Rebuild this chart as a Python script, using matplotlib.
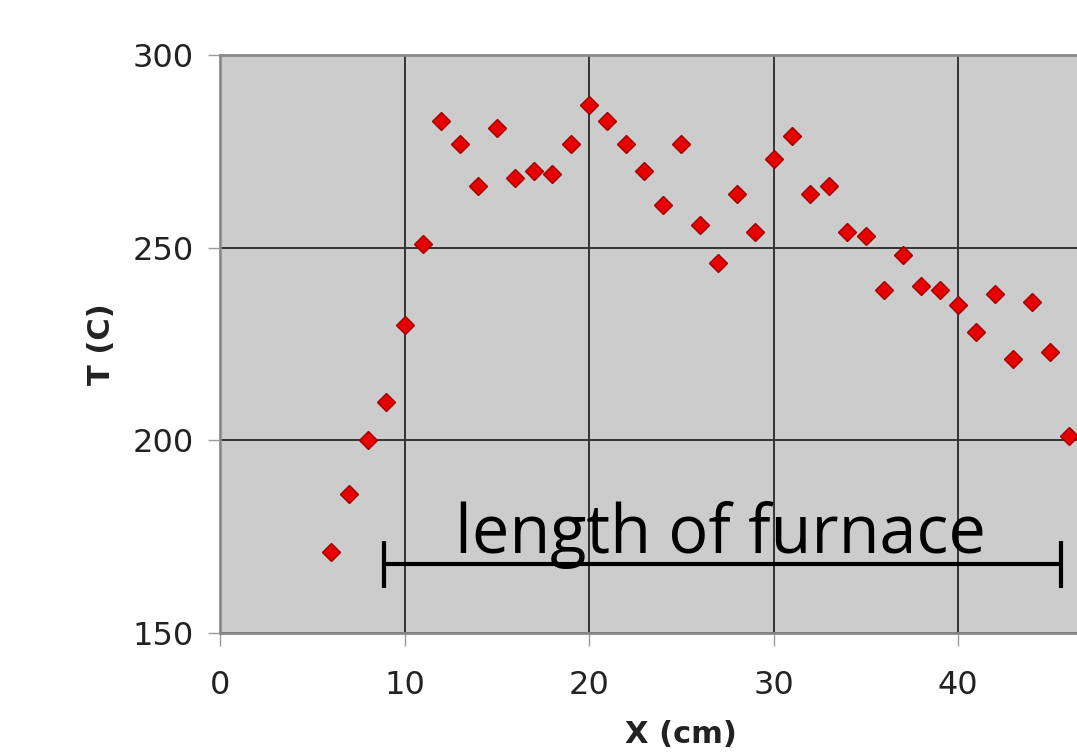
import numpy as np
import matplotlib
matplotlib.use("Agg")
import matplotlib.pyplot as plt

# --- datos ---
x_cm = [6, 7, 8, 9, 10, 11, 12, 13, 14, 15, 16, 17, 18, 19, 20, 21, 22, 23, 24,
        25, 26, 27, 28, 29, 30, 31, 32, 33, 34, 35, 36, 37, 38, 39, 40, 41, 42,
        43, 44, 45, 46, 47]
temp_c = [171, 186, 200, 210, 230, 251, 283, 277, 266, 281, 268, 270, 269, 277,
          287, 283, 277, 270, 261, 277, 256, 246, 264, 254, 273, 279, 264, 266,
          254, 253, 239, 248, 240, 239, 235, 228, 238, 221, 236, 223, 201, 177]

x_ticks = [0, 10, 20, 30, 40]
y_ticks = [150, 200, 250, 300]

# horno: inicio y fin (cm) y altura de la barra (C)
furnace_start = 8.9
furnace_end = 45.6
furnace_level = 167.9
furnace_label = "length of furnace"

W, H = 1077, 754
fig = plt.figure(figsize=(W / 100, H / 100), dpi=100)
fig.patch.set_facecolor("white")

# el area del grafico se sale por la derecha de la imagen
left, top, bottom = 220, 55, 633
xmax = 50
px_per_unit = (958 - 220) / 40.0
right = left + xmax * px_per_unit
ax = fig.add_axes([left / W, (H - bottom) / H, (right - left) / W, (bottom - top) / H])

ax.set_facecolor("#cccccc")
ax.set_xlim(0, xmax)
ax.set_ylim(150, 300)
ax.set_xticks(x_ticks)
ax.set_yticks(y_ticks)

ax.grid(True, color="#333333", linewidth=1.4)
ax.set_axisbelow(True)

for side in ["left", "bottom", "top"]:
    ax.spines[side].set_color("#8a8a8a")
    ax.spines[side].set_linewidth(2)
ax.spines["right"].set_visible(False)

ax.tick_params(axis="both", direction="out", color="#9a9a9a", width=1,
               length=9, labelsize=23, labelcolor="#222222")
ax.tick_params(axis="x", pad=18)
ax.tick_params(axis="y", pad=10)

ax.plot(x_cm, temp_c, linestyle="none", marker="D", markersize=9.5,
        markerfacecolor="#e60000", markeredgecolor="#a00000",
        markeredgewidth=1, clip_on=False, zorder=3)

ax.set_xlabel("X (cm)", fontsize=22, fontweight="bold", color="#222222", labelpad=13)
ax.set_ylabel("T (C)", fontsize=22, fontweight="bold", color="#222222", labelpad=12)

# barra "length of furnace"
ax.plot([furnace_start, furnace_end], [furnace_level, furnace_level],
        color="black", linewidth=3, solid_capstyle="butt", zorder=4)
ax.errorbar([furnace_start, furnace_end], [furnace_level, furnace_level],
            yerr=6.1, fmt="none", ecolor="black", elinewidth=3, capsize=0, zorder=4)
ax.text(27.1, 170.75, furnace_label,
        family="Open Sans", fontsize=48, ha="center", va="baseline",
        color="black", zorder=5)

plt.savefig("out.png", dpi=100)
